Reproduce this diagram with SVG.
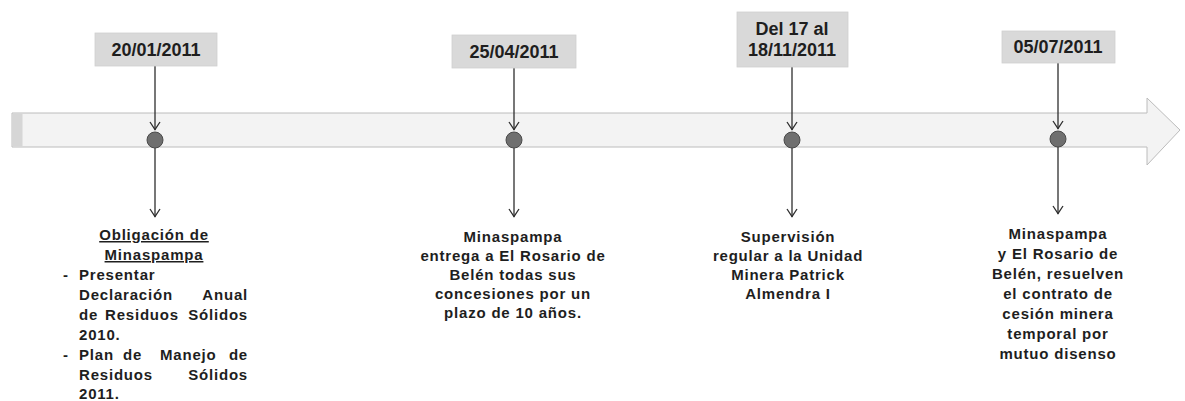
<svg xmlns="http://www.w3.org/2000/svg" width="1185" height="401" viewBox="0 0 1185 401">
  <style>
    .bg { fill: #ffffff; }
    .band { fill: #f3f3f3; stroke: #bcbcbc; stroke-width: 1; }
    .bandEnd { fill: #d6d6d6; }
    .datebox { fill: #d9d9d9; stroke: #d0d0d0; stroke-width: 0.8; }
    .date { font-family: "Liberation Sans", Arial, sans-serif; font-weight: bold; font-size: 18px; fill: #1e1e1e; text-anchor: middle; }
    .desc { font-family: "Liberation Sans", Arial, sans-serif; font-weight: bold; font-size: 15px; letter-spacing: 0.8px; fill: #1e1e1e; text-anchor: middle; }
    .left { text-anchor: start; }
    .right { text-anchor: end; }
    .ul { text-decoration: underline; }
    .dot { fill: #6f6f6f; stroke: #4a4a4a; stroke-width: 1; }
    .conn { stroke: #2e2e2e; stroke-width: 1.3; fill: none; marker-end: url(#chev); }
  </style>
  <defs>
    <marker id="chev" viewBox="-1 -7 10 14" refX="8" refY="0" markerWidth="10" markerHeight="14" markerUnits="userSpaceOnUse" orient="auto">
      <path d="M0,-5 L7.5,0 L0,5" fill="none" stroke="#2e2e2e" stroke-width="1.3"/>
    </marker>
  </defs>
  <rect class="bg" x="0" y="0" width="1185" height="401"/>

  <g id="timeline">
    <path class="band" d="M12,113 L1147,113 L1147,98 L1180,130 L1147,165 L1147,147 L12,147 Z"/>
    <rect class="bandEnd" x="12.5" y="113.5" width="10" height="33"/>
  </g>

  <g id="connectors">
    <line class="conn" x1="155" y1="66" x2="155" y2="130"/>
    <line class="conn" x1="155" y1="148" x2="155" y2="217"/>
    <line class="conn" x1="514" y1="68" x2="514" y2="130"/>
    <line class="conn" x1="514" y1="148" x2="514" y2="217"/>
    <line class="conn" x1="792" y1="67" x2="792" y2="130"/>
    <line class="conn" x1="792" y1="148" x2="792" y2="217"/>
    <line class="conn" x1="1058" y1="63" x2="1058" y2="129"/>
    <line class="conn" x1="1058" y1="147" x2="1058" y2="214"/>
  </g>

  <g id="node1">
    <rect class="datebox" x="95" y="33" width="122" height="33"/>
    <text class="date" x="156" y="56">20/01/2011</text>
    <circle class="dot" cx="155" cy="140" r="8"/>
    <text class="desc ul" x="154" y="240">Obligación de</text>
    <text class="desc ul" x="154" y="260">Minaspampa</text>
    <text class="desc left" x="63" y="280">-</text>
    <text class="desc left" x="79" y="280">Presentar</text>
    <text class="desc left" x="79" y="300">Declaración</text>
    <text class="desc right" x="248" y="300">Anual</text>
    <text class="desc left" x="79" y="320">de</text>
    <text class="desc left" x="105" y="320">Residuos</text>
    <text class="desc right" x="248" y="320">Sólidos</text>
    <text class="desc left" x="79" y="340">2010.</text>
    <text class="desc left" x="63" y="360">-</text>
    <text class="desc left" x="79" y="360">Plan</text>
    <text class="desc left" x="123" y="360">de</text>
    <text class="desc left" x="160" y="360">Manejo</text>
    <text class="desc right" x="248" y="360">de</text>
    <text class="desc left" x="79" y="380">Residuos</text>
    <text class="desc right" x="248" y="380">Sólidos</text>
    <text class="desc left" x="79" y="399">2011.</text>
  </g>

  <g id="node2">
    <rect class="datebox" x="452" y="35" width="124" height="33"/>
    <text class="date" x="514" y="58">25/04/2011</text>
    <circle class="dot" cx="514" cy="140" r="8"/>
    <text class="desc" x="513" y="242">Minaspampa</text>
    <text class="desc" x="513" y="261">entrega a El Rosario de</text>
    <text class="desc" x="513" y="280">Belén todas sus</text>
    <text class="desc" x="513" y="299">concesiones por un</text>
    <text class="desc" x="513" y="318">plazo de 10 años.</text>
  </g>

  <g id="node3">
    <rect class="datebox" x="737" y="12" width="111" height="55"/>
    <text class="date" x="792" y="35">Del 17 al</text>
    <text class="date" x="792" y="56">18/11/2011</text>
    <circle class="dot" cx="792" cy="140" r="8"/>
    <text class="desc" x="788" y="242">Supervisión</text>
    <text class="desc" x="788" y="261">regular a la Unidad</text>
    <text class="desc" x="788" y="280">Minera Patrick</text>
    <text class="desc" x="788" y="299">Almendra I</text>
  </g>

  <g id="node4">
    <rect class="datebox" x="1002" y="31" width="113" height="32"/>
    <text class="date" x="1058" y="53">05/07/2011</text>
    <circle class="dot" cx="1058" cy="139" r="8"/>
    <text class="desc" x="1058" y="239">Minaspampa</text>
    <text class="desc" x="1058" y="259">y El Rosario de</text>
    <text class="desc" x="1058" y="279">Belén, resuelven</text>
    <text class="desc" x="1058" y="299">el contrato de</text>
    <text class="desc" x="1058" y="319">cesión minera</text>
    <text class="desc" x="1058" y="339">temporal por</text>
    <text class="desc" x="1058" y="359">mutuo disenso</text>
  </g>
</svg>
